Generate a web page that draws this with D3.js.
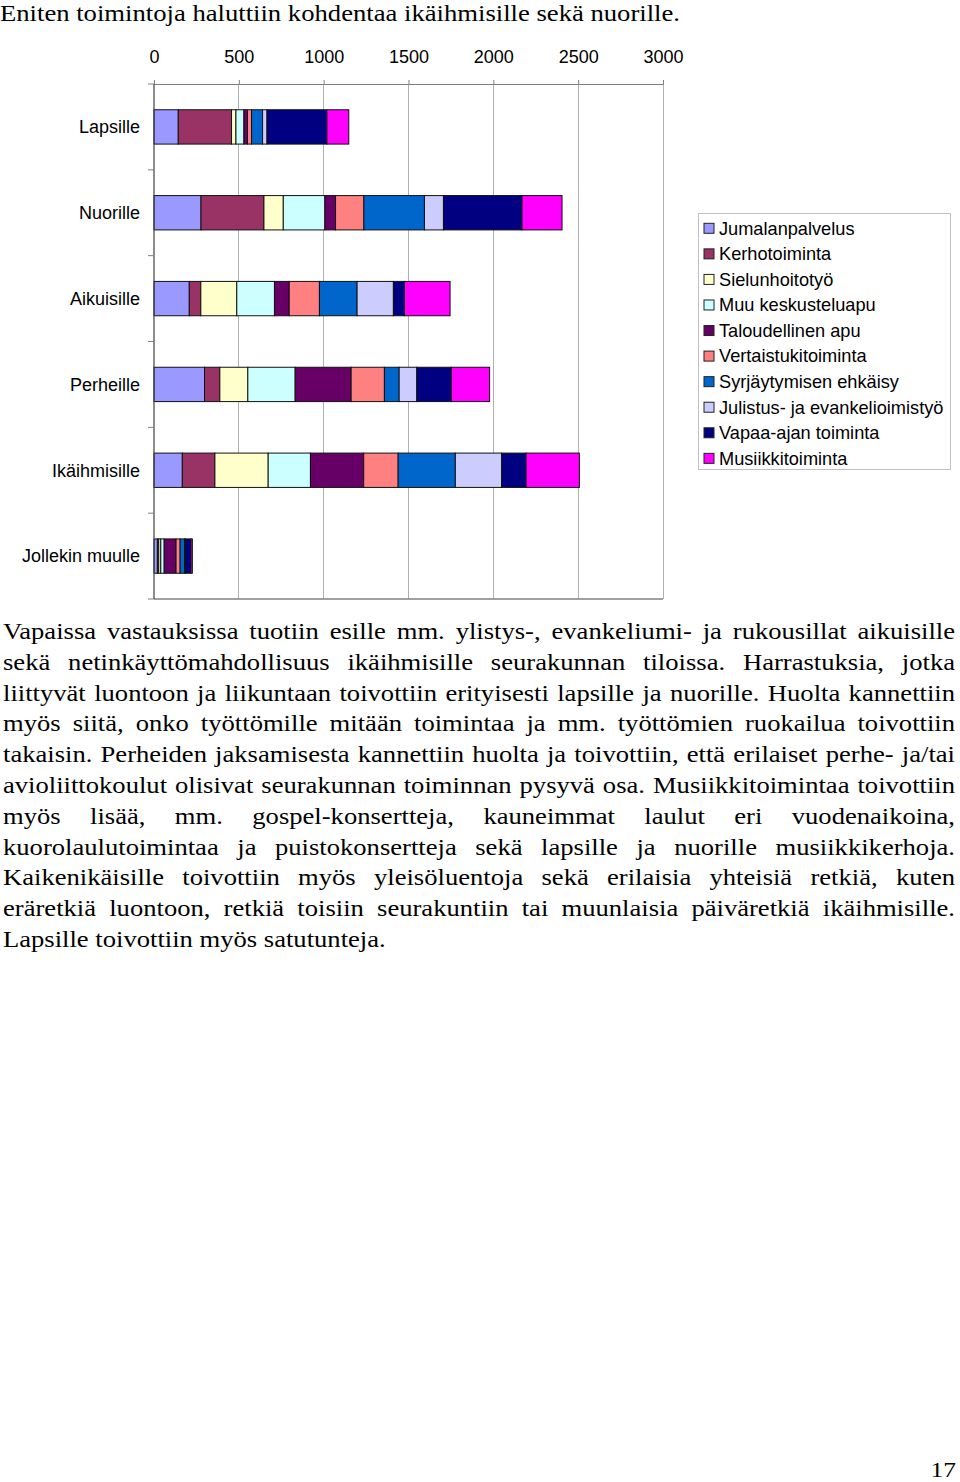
<!DOCTYPE html>
<html>
<head>
<meta charset="utf-8">
<script src="https://cdn.jsdelivr.net/npm/d3@7"></script>
<style>
html,body{margin:0;padding:0;background:#fff;}
svg{display:block;}
</style>
</head>
<body>
<svg id="chart" width="960" height="1482"></svg>
<script>
// ---------- DATA ----------
const categories = ["Lapsille","Nuorille","Aikuisille","Perheille","Ikäihmisille","Jollekin muulle"];
const seriesNames = ["Jumalanpalvelus","Kerhotoiminta","Sielunhoitotyö","Muu keskusteluapu","Taloudellinen apu","Vertaistukitoiminta","Syrjäytymisen ehkäisy","Julistus- ja evankelioimistyö","Vapaa-ajan toiminta","Musiikkitoiminta"];
const jumalanpalvelus   = [143, 277, 208, 298, 167, 20];
const kerhotoiminta     = [314, 371,  68,  90, 192,  8];
const sielunhoitotyo    = [ 26, 114, 212, 165, 314, 12];
const muuKeskusteluapu  = [ 47, 245, 222, 279, 249, 20];
const taloudellinenApu  = [ 21,  63,  87, 330, 314, 70];
const vertaistuki       = [ 24, 167, 178, 196, 203, 24];
const syrjaytyminen     = [ 65, 357, 222,  87, 337, 26];
const julistus          = [ 26, 112, 214, 104, 273,  6];
const vapaaAika         = [353, 463,  65, 203, 144, 32];
const musiikki          = [129, 236, 269, 226, 314,  8];
const xTicks = [0, 500, 1000, 1500, 2000, 2500, 3000];
const colors = ["#9999FF","#993366","#FFFFCC","#CCFFFF","#660066","#FF8080","#0066CC","#CCCCFF","#000080","#FF00FF"];

const title = "Eniten toimintoja haluttiin kohdentaa ikäihmisille sekä nuorille.";
const paragraphLines = [
 "Vapaissa vastauksissa tuotiin esille mm. ylistys-, evankeliumi- ja rukousillat aikuisille",
 "sekä netinkäyttömahdollisuus ikäihmisille seurakunnan tiloissa. Harrastuksia, jotka",
 "liittyvät luontoon ja liikuntaan toivottiin erityisesti lapsille ja nuorille. Huolta kannettiin",
 "myös siitä, onko työttömille mitään toimintaa ja mm. työttömien ruokailua toivottiin",
 "takaisin. Perheiden jaksamisesta kannettiin huolta ja toivottiin, että erilaiset perhe- ja/tai",
 "avioliittokoulut olisivat seurakunnan toiminnan pysyvä osa. Musiikkitoimintaa toivottiin",
 "myös lisää, mm. gospel-konsertteja, kauneimmat laulut eri vuodenaikoina,",
 "kuorolaulutoimintaa ja puistokonsertteja sekä lapsille ja nuorille musiikkikerhoja.",
 "Kaikenikäisille toivottiin myös yleisöluentoja sekä erilaisia yhteisiä retkiä, kuten",
 "eräretkiä luontoon, retkiä toisiin seurakuntiin tai muunlaisia päiväretkiä ikäihmisille.",
 "Lapsille toivottiin myös satutunteja."
];
const pageNumber = "17";

const seriesValues = [jumalanpalvelus,kerhotoiminta,sielunhoitotyo,muuKeskusteluapu,taloudellinenApu,vertaistuki,syrjaytyminen,julistus,vapaaAika,musiikki];
const table = categories.map((c,i)=>{
  const row = {category:c};
  seriesNames.forEach((s,j)=>row[s]=seriesValues[j][i]);
  return row;
});

// ---------- DRAW ----------
const svg = d3.select("#chart");
const sans = "'Liberation Sans', Arial, sans-serif";
const serif = "'Liberation Serif', 'Times New Roman', serif";
const stretch = 1.157;

svg.append("text").attr("x",0).attr("y",21)
  .attr("font-family",serif).attr("font-size",24).attr("fill","#000")
  .attr("textLength",680).attr("lengthAdjust","spacingAndGlyphs")
  .text(title);

const x = d3.scaleLinear().domain([0,3000]).range([154,663]);
const y = d3.scaleBand().domain(categories).range([84,599]).paddingInner(0.6).paddingOuter(0.3);

// gridlines
svg.append("g").selectAll("line").data(xTicks.slice(1)).join("line")
  .attr("x1",d=>x(d)).attr("x2",d=>x(d)).attr("y1",84).attr("y2",599)
  .attr("stroke","#b0b0b0").attr("stroke-width",1).attr("shape-rendering","crispEdges");

// top axis
const xAxis = d3.axisTop(x).tickValues(xTicks).tickSize(4).tickPadding(17).tickFormat(d3.format("d"));
const gx = svg.append("g").attr("transform","translate(0,84)").call(xAxis);
gx.select(".domain").attr("stroke","#808080");
gx.selectAll(".tick line").attr("stroke","#808080");
gx.selectAll(".tick text").attr("font-family",sans).attr("font-size",18).attr("fill","#000");

// bottom line
svg.append("line").attr("x1",154).attr("x2",663).attr("y1",599).attr("y2",599)
  .attr("stroke","#808080").attr("stroke-width",1.5);

// stacked bars
const stack = d3.stack().keys(seriesNames);
const stacked = stack(table);
svg.append("g").selectAll("g").data(stacked).join("g")
  .attr("fill",(d,i)=>colors[i])
  .selectAll("rect").data(d=>d).join("rect")
  .attr("x",d=>x(d[0])).attr("width",d=>x(d[1])-x(d[0]))
  .attr("y",d=>y(d.data.category)).attr("height",y.bandwidth())
  .attr("stroke","#111").attr("stroke-width",1);

// left axis
const step = y.step();
const boundaries = d3.range(categories.length+1).map(i=>84+i*step);
const gy = svg.append("g");
gy.append("line").attr("x1",154).attr("x2",154).attr("y1",84).attr("y2",599)
  .attr("stroke","#404040").attr("stroke-width",1.2);
gy.selectAll("line.tk").data(boundaries).join("line").attr("class","tk")
  .attr("x1",148).attr("x2",154).attr("y1",d=>d).attr("y2",d=>d)
  .attr("stroke","#808080");
gy.selectAll("text").data(categories).join("text")
  .attr("x",140).attr("y",d=>y(d)+y.bandwidth()/2).attr("dy","0.35em")
  .attr("text-anchor","end").attr("font-family",sans).attr("font-size",18).attr("fill","#000")
  .text(d=>d);

// legend
const lg = svg.append("g");
lg.append("rect").attr("x",698.5).attr("y",213.5).attr("width",252).attr("height",256)
  .attr("fill","#fff").attr("stroke","#c0c0c0");
const items = lg.selectAll("g.item").data(seriesNames).join("g").attr("class","item")
  .attr("transform",(d,i)=>`translate(0,${228.3+i*25.56})`);
items.append("rect").attr("x",704).attr("y",-5).attr("width",10).attr("height",10)
  .attr("fill",(d,i)=>colors[i]).attr("stroke","#222").attr("stroke-width",1);
items.append("text").attr("x",719).attr("dy","0.35em")
  .attr("font-family",sans).attr("font-size",18.2).attr("fill","#000").text(d=>d);

// paragraph (justified, horizontally stretched like the scan)
const para = svg.append("g").attr("transform",`translate(3,0) scale(${stretch},1)`);
const targetW = 952/stretch;
paragraphLines.forEach((line,i)=>{
  const t = para.append("text").attr("x",0).attr("y",639+i*30.8)
    .attr("font-family",serif).attr("font-size",23).attr("fill","#000")
    .attr("xml:space","preserve").text(line);
  if(i < paragraphLines.length-1){
    const w = t.node().getComputedTextLength();
    const gaps = line.split(" ").length-1;
    const extra = (targetW - w)/gaps;
    t.attr("word-spacing", extra);
  }
});

svg.append("g").attr("transform",`translate(956,1477) scale(${stretch},1)`)
  .append("text").attr("x",0).attr("y",0).attr("text-anchor","end")
  .attr("font-family",serif).attr("font-size",22).attr("fill","#000").text(pageNumber);
</script>
</body>
</html>
